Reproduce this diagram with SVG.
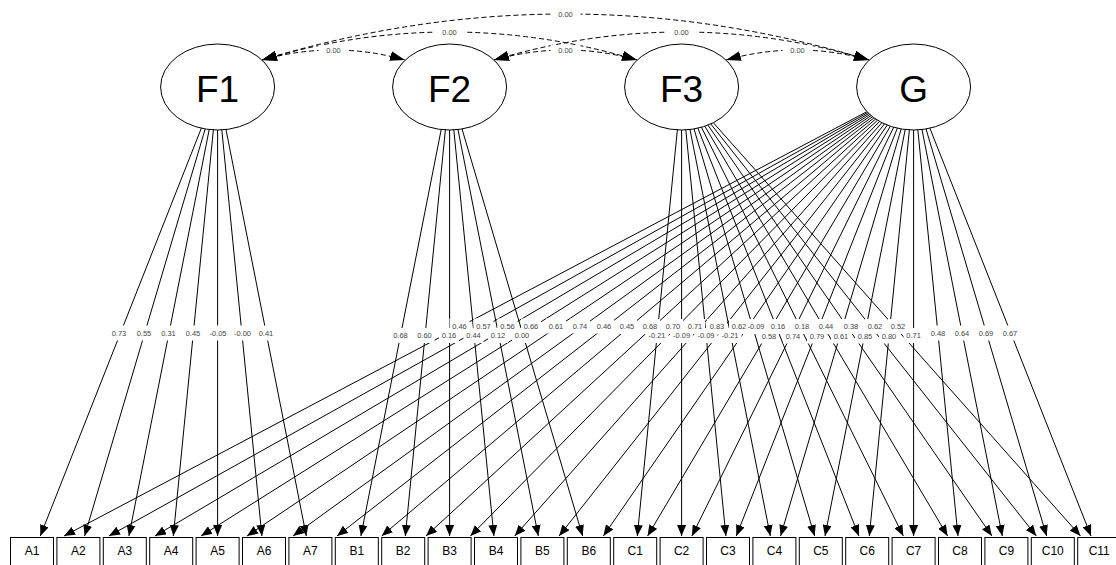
<svg xmlns="http://www.w3.org/2000/svg" width="1116" height="565" viewBox="0 0 1116 565">
<style>
.ln{stroke:#000;stroke-width:1;fill:none;marker-end:url(#ah)}
.cv{stroke:#000;stroke-width:1;fill:none;stroke-dasharray:5 3;marker-start:url(#ch);marker-end:url(#ch)}
.bg{fill:#fff;stroke:none}
.lb{font-family:"Liberation Sans",Arial,sans-serif;font-size:7.5px;fill:#444;text-anchor:middle}
.lat ellipse{fill:#fff;stroke:#000;stroke-width:1}
.lat text{font-family:"Liberation Sans",Arial,sans-serif;font-size:37px;fill:#000;text-anchor:middle}
.man rect{fill:#fff;stroke:#000;stroke-width:1}
.man text{font-family:"Liberation Sans",Arial,sans-serif;font-size:12px;fill:#000;text-anchor:middle}
</style>
<defs>
<marker id="ah" viewBox="0 0 11 9" refX="11" refY="4.5" markerWidth="11" markerHeight="9" markerUnits="userSpaceOnUse" orient="auto"><path d="M0,0 L11,4.5 L0,9 z" fill="#000"/></marker>
<marker id="ch" viewBox="0 0 15 10" refX="15" refY="5" markerWidth="15" markerHeight="10" markerUnits="userSpaceOnUse" orient="auto-start-reverse"><path d="M0,0 L15,5 L0,10 z" fill="#000"/></marker>
</defs>
<rect x="0" y="0" width="1116" height="565" fill="#fff"/>
<g id="connectors">
<g id="loadings">
<line class="ln" x1="217.6" y1="87" x2="40.3" y2="536"/>
<line class="ln" x1="217.6" y1="87" x2="84.6" y2="536"/>
<line class="ln" x1="217.6" y1="87" x2="128.9" y2="536"/>
<line class="ln" x1="217.6" y1="87" x2="173.3" y2="536"/>
<line class="ln" x1="217.6" y1="87" x2="217.6" y2="536"/>
<line class="ln" x1="217.6" y1="87" x2="261.9" y2="536"/>
<line class="ln" x1="217.6" y1="87" x2="306.3" y2="536"/>
<line class="ln" x1="449.6" y1="87" x2="360.9" y2="536"/>
<line class="ln" x1="449.6" y1="87" x2="405.3" y2="536"/>
<line class="ln" x1="449.6" y1="87" x2="449.6" y2="536"/>
<line class="ln" x1="449.6" y1="87" x2="493.9" y2="536"/>
<line class="ln" x1="449.6" y1="87" x2="538.3" y2="536"/>
<line class="ln" x1="449.6" y1="87" x2="582.6" y2="536"/>
<line class="ln" x1="681.6" y1="87" x2="637.3" y2="536"/>
<line class="ln" x1="681.6" y1="87" x2="681.6" y2="536"/>
<line class="ln" x1="681.6" y1="87" x2="725.9" y2="536"/>
<line class="ln" x1="681.6" y1="87" x2="770.3" y2="536"/>
<line class="ln" x1="681.6" y1="87" x2="814.6" y2="536"/>
<line class="ln" x1="681.6" y1="87" x2="858.9" y2="536"/>
<line class="ln" x1="681.6" y1="87" x2="903.3" y2="536"/>
<line class="ln" x1="681.6" y1="87" x2="947.6" y2="536"/>
<line class="ln" x1="681.6" y1="87" x2="991.9" y2="536"/>
<line class="ln" x1="681.6" y1="87" x2="1036.3" y2="536"/>
<line class="ln" x1="681.6" y1="87" x2="1080.5" y2="536"/>
<line class="ln" x1="913.6" y1="87" x2="64" y2="536"/>
<line class="ln" x1="913.6" y1="87" x2="109" y2="536"/>
<line class="ln" x1="913.6" y1="87" x2="155" y2="536"/>
<line class="ln" x1="913.6" y1="87" x2="201" y2="536"/>
<line class="ln" x1="913.6" y1="87" x2="247" y2="536"/>
<line class="ln" x1="913.6" y1="87" x2="293" y2="536"/>
<line class="ln" x1="913.6" y1="87" x2="337" y2="536"/>
<line class="ln" x1="913.6" y1="87" x2="381.7" y2="536"/>
<line class="ln" x1="913.6" y1="87" x2="426" y2="536"/>
<line class="ln" x1="913.6" y1="87" x2="470.4" y2="536"/>
<line class="ln" x1="913.6" y1="87" x2="514.7" y2="536"/>
<line class="ln" x1="913.6" y1="87" x2="559.1" y2="536"/>
<line class="ln" x1="913.6" y1="87" x2="603.4" y2="536"/>
<line class="ln" x1="913.6" y1="87" x2="647.6" y2="536"/>
<line class="ln" x1="913.6" y1="87" x2="691.9" y2="536"/>
<line class="ln" x1="913.6" y1="87" x2="736.3" y2="536"/>
<line class="ln" x1="913.6" y1="87" x2="780.6" y2="536"/>
<line class="ln" x1="913.6" y1="87" x2="825" y2="536"/>
<line class="ln" x1="913.6" y1="87" x2="869.3" y2="536"/>
<line class="ln" x1="913.6" y1="87" x2="913.6" y2="536"/>
<line class="ln" x1="913.6" y1="87" x2="958" y2="536"/>
<line class="ln" x1="913.6" y1="87" x2="1002.3" y2="536"/>
<line class="ln" x1="913.6" y1="87" x2="1046.6" y2="536"/>
<line class="ln" x1="913.6" y1="87" x2="1091" y2="536"/>
</g>
<g id="covariances">
<path class="cv" d="M262,60 Q565.5,-32 869,60"/>
<path class="cv" d="M262,60 Q449.5,4 637,60"/>
<path class="cv" d="M494,60 Q681.5,4 869,60"/>
<path class="cv" d="M262,60 Q333.5,40 405,60"/>
<path class="cv" d="M494,60 Q565.5,40 637,60"/>
<path class="cv" d="M726,60 Q797.5,40 869,60"/>
</g>
<g id="label-backgrounds">
<rect class="bg" x="550.5" y="9" width="30" height="10"/>
<rect class="bg" x="434.5" y="27" width="30" height="10"/>
<rect class="bg" x="666.5" y="27" width="30" height="10"/>
<rect class="bg" x="318.5" y="45" width="30" height="10"/>
<rect class="bg" x="550.5" y="45" width="30" height="10"/>
<rect class="bg" x="782.5" y="45" width="30" height="10"/>
<rect class="bg" x="109" y="325.5" width="20" height="15"/>
<rect class="bg" x="134" y="325.5" width="20" height="15"/>
<rect class="bg" x="158.5" y="325.5" width="20" height="15"/>
<rect class="bg" x="183" y="325.5" width="20" height="15"/>
<rect class="bg" x="206.5" y="325.5" width="23" height="15"/>
<rect class="bg" x="231" y="325.5" width="23" height="15"/>
<rect class="bg" x="256" y="325.5" width="20" height="15"/>
<rect class="bg" x="390.5" y="328" width="20" height="15"/>
<rect class="bg" x="414.5" y="328" width="20" height="15"/>
<rect class="bg" x="439" y="328" width="20" height="15"/>
<rect class="bg" x="463.5" y="328" width="20" height="15"/>
<rect class="bg" x="488" y="328" width="20" height="15"/>
<rect class="bg" x="512" y="328" width="20" height="15"/>
<rect class="bg" x="449.5" y="318.5" width="20" height="15"/>
<rect class="bg" x="473.5" y="318.5" width="20" height="15"/>
<rect class="bg" x="497.5" y="318.5" width="20" height="15"/>
<rect class="bg" x="521" y="318.5" width="20" height="15"/>
<rect class="bg" x="546" y="318.5" width="20" height="15"/>
<rect class="bg" x="570" y="318.5" width="20" height="15"/>
<rect class="bg" x="594" y="318.5" width="20" height="15"/>
<rect class="bg" x="617" y="319" width="20" height="15"/>
<rect class="bg" x="640" y="319" width="20" height="15"/>
<rect class="bg" x="663" y="319" width="20" height="15"/>
<rect class="bg" x="685" y="319" width="20" height="15"/>
<rect class="bg" x="707" y="319" width="20" height="15"/>
<rect class="bg" x="729" y="319" width="20" height="15"/>
<rect class="bg" x="645.5" y="328" width="23" height="15"/>
<rect class="bg" x="670.1" y="328" width="23" height="15"/>
<rect class="bg" x="694.5" y="328" width="23" height="15"/>
<rect class="bg" x="718.5" y="328" width="23" height="15"/>
<rect class="bg" x="744.5" y="319" width="23" height="15"/>
<rect class="bg" x="768" y="319" width="20" height="15"/>
<rect class="bg" x="792" y="319" width="20" height="15"/>
<rect class="bg" x="816" y="319" width="20" height="15"/>
<rect class="bg" x="841" y="319" width="20" height="15"/>
<rect class="bg" x="865" y="319" width="20" height="15"/>
<rect class="bg" x="888" y="319" width="20" height="15"/>
<rect class="bg" x="759" y="328.5" width="20" height="15"/>
<rect class="bg" x="783" y="328.5" width="20" height="15"/>
<rect class="bg" x="807" y="328.5" width="20" height="15"/>
<rect class="bg" x="831" y="328.5" width="20" height="15"/>
<rect class="bg" x="855" y="328.5" width="20" height="15"/>
<rect class="bg" x="879" y="328.5" width="20" height="15"/>
<rect class="bg" x="903.6" y="328" width="20" height="15"/>
<rect class="bg" x="928" y="325.5" width="20" height="15"/>
<rect class="bg" x="952" y="325.5" width="20" height="15"/>
<rect class="bg" x="976" y="325.5" width="20" height="15"/>
<rect class="bg" x="1000" y="325.5" width="20" height="15"/>
</g>
<g id="labels">
<text class="lb" x="565.5" y="16.7">0.00</text>
<text class="lb" x="449.5" y="34.7">0.00</text>
<text class="lb" x="681.5" y="34.7">0.00</text>
<text class="lb" x="333.5" y="52.7">0.00</text>
<text class="lb" x="565.5" y="52.7">0.00</text>
<text class="lb" x="797.5" y="52.7">0.00</text>
<text class="lb" x="119" y="335.7">0.73</text>
<text class="lb" x="144" y="335.7">0.55</text>
<text class="lb" x="168.5" y="335.7">0.31</text>
<text class="lb" x="193" y="335.7">0.45</text>
<text class="lb" x="218" y="335.7">-0.05</text>
<text class="lb" x="242.5" y="335.7">-0.00</text>
<text class="lb" x="266" y="335.7">0.41</text>
<text class="lb" x="400.5" y="338.2">0.68</text>
<text class="lb" x="424.5" y="338.2">0.60</text>
<text class="lb" x="449" y="338.2">0.16</text>
<text class="lb" x="473.5" y="338.2">0.44</text>
<text class="lb" x="498" y="338.2">0.12</text>
<text class="lb" x="522" y="338.2">0.00</text>
<text class="lb" x="459.5" y="328.7">0.46</text>
<text class="lb" x="483.5" y="328.7">0.57</text>
<text class="lb" x="507.5" y="328.7">0.56</text>
<text class="lb" x="531" y="328.7">0.66</text>
<text class="lb" x="556" y="328.7">0.61</text>
<text class="lb" x="580" y="328.7">0.74</text>
<text class="lb" x="604" y="328.7">0.46</text>
<text class="lb" x="627" y="329.2">0.45</text>
<text class="lb" x="650" y="329.2">0.68</text>
<text class="lb" x="673" y="329.2">0.70</text>
<text class="lb" x="695" y="329.2">0.71</text>
<text class="lb" x="717" y="329.2">0.83</text>
<text class="lb" x="739" y="329.2">0.62</text>
<text class="lb" x="657" y="338.2">-0.21</text>
<text class="lb" x="681.6" y="338.2">-0.09</text>
<text class="lb" x="706" y="338.2">-0.09</text>
<text class="lb" x="730" y="338.2">-0.21</text>
<text class="lb" x="756" y="329.2">-0.09</text>
<text class="lb" x="778" y="329.2">0.16</text>
<text class="lb" x="802" y="329.2">0.18</text>
<text class="lb" x="826" y="329.2">0.44</text>
<text class="lb" x="851" y="329.2">0.38</text>
<text class="lb" x="875" y="329.2">0.62</text>
<text class="lb" x="898" y="329.2">0.52</text>
<text class="lb" x="769" y="338.7">0.58</text>
<text class="lb" x="793" y="338.7">0.74</text>
<text class="lb" x="817" y="338.7">0.79</text>
<text class="lb" x="841" y="338.7">0.61</text>
<text class="lb" x="865" y="338.7">0.85</text>
<text class="lb" x="889" y="338.7">0.80</text>
<text class="lb" x="913.6" y="338.2">0.71</text>
<text class="lb" x="938" y="335.7">0.48</text>
<text class="lb" x="962" y="335.7">0.64</text>
<text class="lb" x="986" y="335.7">0.69</text>
<text class="lb" x="1010" y="335.7">0.67</text>
</g>
</g>
<g id="F1" class="lat"><ellipse cx="217.6" cy="87" rx="57" ry="43"/><text x="217.6" y="101.5">F1</text></g>
<g id="F2" class="lat"><ellipse cx="449.6" cy="87" rx="57" ry="43"/><text x="449.6" y="101.5">F2</text></g>
<g id="F3" class="lat"><ellipse cx="681.6" cy="87" rx="57" ry="43"/><text x="681.6" y="101.5">F3</text></g>
<g id="G" class="lat"><ellipse cx="913.6" cy="87" rx="57" ry="43"/><text x="913.6" y="101.5">G</text></g>
<g id="A1" class="man"><rect x="10.5" y="537.5" width="43" height="40"/><text x="32" y="555">A1</text></g>
<g id="A2" class="man"><rect x="56.9" y="537.5" width="43" height="40"/><text x="78.4" y="555">A2</text></g>
<g id="A3" class="man"><rect x="103.3" y="537.5" width="43" height="40"/><text x="124.8" y="555">A3</text></g>
<g id="A4" class="man"><rect x="149.7" y="537.5" width="43" height="40"/><text x="171.2" y="555">A4</text></g>
<g id="A5" class="man"><rect x="196.1" y="537.5" width="43" height="40"/><text x="217.6" y="555">A5</text></g>
<g id="A6" class="man"><rect x="242.5" y="537.5" width="43" height="40"/><text x="264" y="555">A6</text></g>
<g id="A7" class="man"><rect x="288.9" y="537.5" width="43" height="40"/><text x="310.4" y="555">A7</text></g>
<g id="B1" class="man"><rect x="335.3" y="537.5" width="43" height="40"/><text x="356.8" y="555">B1</text></g>
<g id="B2" class="man"><rect x="381.7" y="537.5" width="43" height="40"/><text x="403.2" y="555">B2</text></g>
<g id="B3" class="man"><rect x="428.1" y="537.5" width="43" height="40"/><text x="449.6" y="555">B3</text></g>
<g id="B4" class="man"><rect x="474.5" y="537.5" width="43" height="40"/><text x="496" y="555">B4</text></g>
<g id="B5" class="man"><rect x="520.9" y="537.5" width="43" height="40"/><text x="542.4" y="555">B5</text></g>
<g id="B6" class="man"><rect x="567.3" y="537.5" width="43" height="40"/><text x="588.8" y="555">B6</text></g>
<g id="C1" class="man"><rect x="613.7" y="537.5" width="43" height="40"/><text x="635.2" y="555">C1</text></g>
<g id="C2" class="man"><rect x="660.1" y="537.5" width="43" height="40"/><text x="681.6" y="555">C2</text></g>
<g id="C3" class="man"><rect x="706.5" y="537.5" width="43" height="40"/><text x="728" y="555">C3</text></g>
<g id="C4" class="man"><rect x="752.9" y="537.5" width="43" height="40"/><text x="774.4" y="555">C4</text></g>
<g id="C5" class="man"><rect x="799.3" y="537.5" width="43" height="40"/><text x="820.8" y="555">C5</text></g>
<g id="C6" class="man"><rect x="845.7" y="537.5" width="43" height="40"/><text x="867.2" y="555">C6</text></g>
<g id="C7" class="man"><rect x="892.1" y="537.5" width="43" height="40"/><text x="913.6" y="555">C7</text></g>
<g id="C8" class="man"><rect x="938.5" y="537.5" width="43" height="40"/><text x="960" y="555">C8</text></g>
<g id="C9" class="man"><rect x="984.9" y="537.5" width="43" height="40"/><text x="1006.4" y="555">C9</text></g>
<g id="C10" class="man"><rect x="1031.3" y="537.5" width="43" height="40"/><text x="1052.8" y="555">C10</text></g>
<g id="C11" class="man"><rect x="1077.7" y="537.5" width="43" height="40"/><text x="1099.2" y="555">C11</text></g>
</svg>
